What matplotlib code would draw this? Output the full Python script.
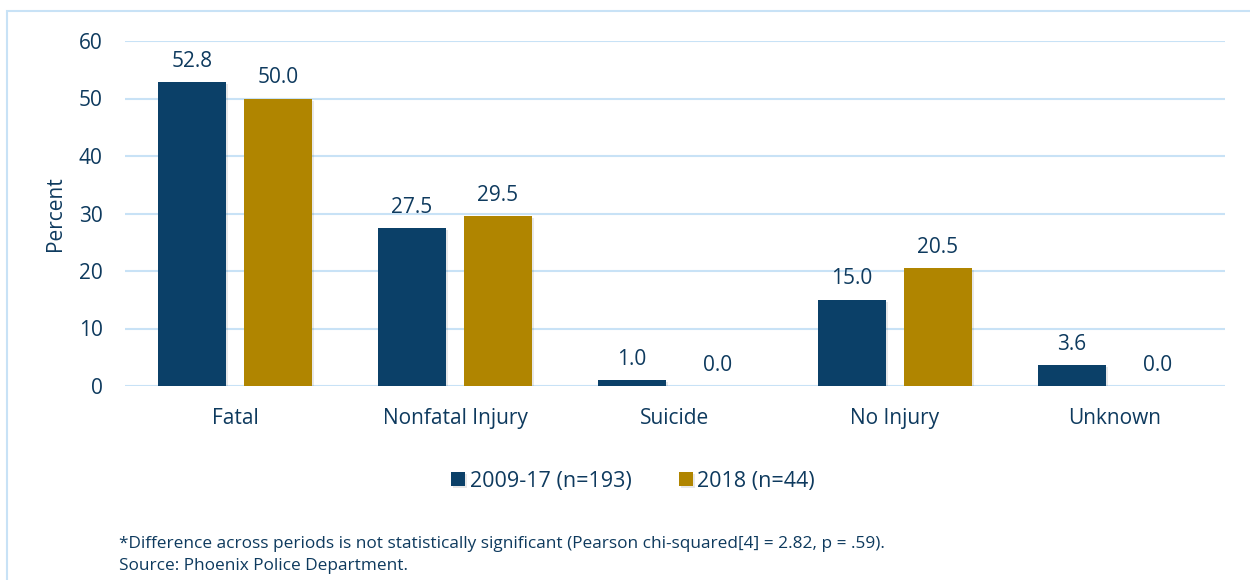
import matplotlib.pyplot as plt
import matplotlib.patheffects as pe
import numpy as np
from matplotlib.patches import Rectangle

categories = ["Fatal", "Nonfatal Injury", "Suicide", "No Injury", "Unknown"]
period_2009_17 = [52.8, 27.5, 1.0, 15.0, 3.6]
period_2018 = [50.0, 29.5, 0.0, 20.5, 0.0]
series_labels = ["2009-17 (n=193)", "2018 (n=44)"]
y_ticks = [0, 10, 20, 30, 40, 50, 60]

navy = "#0B4068"
gold = "#B08500"
text_col = "#0E3A5E"
grid_col = "#C8E2F6"

plt.rcParams['font.family'] = ['Open Sans', 'DejaVu Sans']

fig = plt.figure(figsize=(12.5, 5.8), dpi=100)
ax = fig.add_axes([0.1, 1 - 386 / 580, 0.88, (386 - 41) / 580])

# light frame around the whole chart
fig.patches.append(Rectangle((7 / 1250, -0.1), 1.2, 1 - 11 / 580 + 0.1,
                             transform=fig.transFigure, fill=False,
                             edgecolor=grid_col, linewidth=1.5))

x = np.arange(len(categories))
width = 0.31
offset = 0.195
shadow = [pe.SimplePatchShadow(offset=(1.5, -1.5), alpha=0.12, shadow_rgbFace="#444444"), pe.Normal()]

b1 = ax.bar(x - offset, period_2009_17, width, color=navy, label=series_labels[0],
            zorder=3, path_effects=shadow)
b2 = ax.bar(x + offset, period_2018, width, color=gold, label=series_labels[1],
            zorder=3, path_effects=shadow)

for bars, vals in ((b1, period_2009_17), (b2, period_2018)):
    for bar, v in zip(bars, vals):
        ax.text(bar.get_x() + bar.get_width() / 2, v + 1.8, f"{v:.1f}",
                ha="center", va="bottom", fontsize=15, color=text_col)

ax.set_xlim(-0.5, len(categories) - 0.5)
ax.set_ylim(0, 60)
ax.set_yticks(y_ticks)
ax.set_xticks(x)
ax.set_xticklabels(categories)
ax.tick_params(axis="both", length=0, labelsize=15, labelcolor=text_col)
ax.tick_params(axis="x", pad=16)
ax.tick_params(axis="y", pad=16)
ax.grid(axis="y", color=grid_col, linewidth=1.5, zorder=0)
ax.set_axisbelow(True)
for s in ax.spines.values():
    s.set_visible(False)
ax.axhline(0, color=grid_col, linewidth=2, zorder=1)

ax.set_ylabel("Percent", fontsize=15, color=text_col, labelpad=9)

ax.legend(loc="center", bbox_to_anchor=(633 / 1250, 1 - 481 / 580),
          bbox_transform=fig.transFigure, ncol=2, frameon=False,
          fontsize=15.5, labelcolor=text_col, handlelength=0.65, handleheight=0.65,
          handletextpad=0.2, columnspacing=2.2)

fig.text(119 / 1250, 1 - 544 / 580,
         "*Difference across periods is not statistically significant (Pearson chi-squared[4] = 2.82, p = .59).",
         fontsize=12.4, color=text_col, va="center", ha="left")
fig.text(119 / 1250, 1 - 566 / 580, "Source: Phoenix Police Department.",
         fontsize=12.4, color=text_col, va="center", ha="left")

fig.savefig("out.png", dpi=100)
